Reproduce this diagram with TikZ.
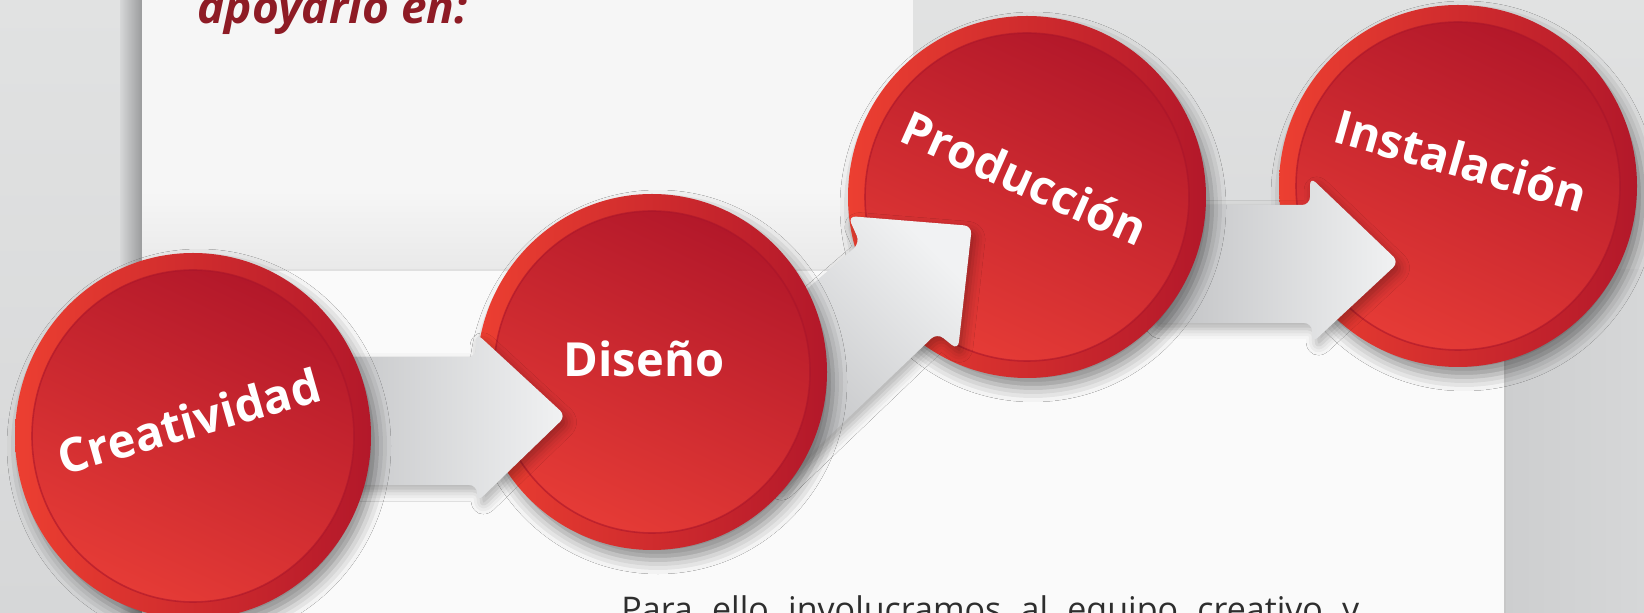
\documentclass[tikz,border=0pt]{standalone}
\usepackage{fontspec}
\setmainfont{Open Sans}
\usetikzlibrary{shadows.blur}
\definecolor{bggrey}{HTML}{D6D7D8}
\definecolor{bglight}{HTML}{E1E2E2}
\definecolor{bgright}{HTML}{CDCECF}
\definecolor{edgedark}{HTML}{9A9B9C}
\definecolor{panelA}{HTML}{F6F6F6}
\definecolor{panelB}{HTML}{E9E9E9}
\definecolor{panelC}{HTML}{FAFAFA}
\definecolor{ringL}{HTML}{EC3F31}
\definecolor{ringM}{HTML}{D82530}
\definecolor{ringR}{HTML}{B3182A}
\definecolor{discT}{HTML}{B3182A}
\definecolor{discB}{HTML}{E53B36}
\definecolor{discedge}{HTML}{A9152A}
\definecolor{arrowL}{HTML}{BFC0C2}
\definecolor{arrowR}{HTML}{F1F2F3}
\definecolor{titlered}{HTML}{8E1B25}
\definecolor{bodygrey}{HTML}{2E2E2E}
\tikzset{
  ringshade/.style={left color=ringL, middle color=ringM, right color=ringR,
    blur shadow={shadow xshift=3pt, shadow yshift=-5pt, shadow blur radius=7pt, shadow opacity=45}},
  discshade/.style={top color=discT, bottom color=discB, shading angle=-25},
  discline/.style={draw=discedge, line width=0.8pt, draw opacity=0.6},
  arrowshade/.style={left color=arrowL, right color=arrowR, rounded corners=4pt,
    blur shadow={shadow xshift=2pt, shadow yshift=-3pt, shadow blur radius=5pt, shadow opacity=30}},
  lab/.style={text=white, font=\bfseries\fontsize{23.5}{28}\selectfont, inner sep=0pt},
}
\newcommand\reddisc[4]{%
  \coordinate (#1) at (#2);
  \shade[ringshade] (#1) ellipse [x radius=#3, y radius=#4];
  \shade[discshade] (#1) ellipse [x radius=#3-17, y radius=#4-17];
  \path[discline] (#1) ellipse [x radius=#3-17, y radius=#4-17];
}
\begin{document}
\begin{tikzpicture}[x=0.5pt,y=-0.5pt]
\useasboundingbox (0,0) rectangle (1644,613);
\clip (0,0) rectangle (1644,613);
% background
\fill[bggrey] (0,0) rectangle (1644,613);
\shade[top color=bglight, bottom color=bggrey] (0,0) rectangle (142,613);
\shade[top color=bglight, bottom color=bggrey!90!white] (913,0) rectangle (1644,270);
\shade[left color=bgright, right color=bggrey] (1505,270) rectangle (1644,613);
\shade[left color=bggrey, right color=edgedark] (120,0) rectangle (142,613);
% top panel
\fill[panelA] (142,0) rectangle (913,270);
\shade[top color=panelA, bottom color=panelB] (142,190) rectangle (913,270);
% lower panel
\fill[panelC] (142,270) rectangle (1505,613);
\draw[black!12, line width=0.6pt] (142,270) -- (913,270);
\draw[black!22, line width=0.8pt] (1505,270) -- (1505,613);
% discs and arrows (back to front)
\reddisc{c4}{1458,186}{179}{181}
\shade[arrowshade] (1150,205) -- (1310,205) -- (1310,177) -- (1399,262) -- (1312,343) -- (1312,323) -- (1150,323) -- cycle;
\reddisc{c3}{1027,197}{179}{181}
\shade[arrowshade, shading angle=135] (760,330) -- (860,243) -- (848,216) -- (972,226) -- (958,350) -- (937,333) -- (775,488) -- cycle;
\reddisc{c2}{652,372}{175}{178}
\shade[arrowshade] (300,357) -- (476,357) -- (476,333) -- (566,416) -- (477,502) -- (477,485) -- (300,485) -- cycle;
\reddisc{c1}{193,436}{178}{183}
% labels
\node[lab, rotate=16] (t1) at (189,421) {Creatividad};
\node[lab, anchor=base] (t2) at (644,377) {Diseño};
\node[lab, rotate=-24] (t3) at (1025,178) {Producción};
\node[lab, rotate=-16] (t4) at (1461,160) {Instalación};
% texts
\node[anchor=base west, inner sep=0pt, text=titlered, font=\bfseries\itshape\fontsize{23}{27}\selectfont] (title) at (197,24) {apoyarlo en:};
\node[anchor=base west, inner sep=0pt, text=bodygrey, font=\fontsize{17}{20}\selectfont] (body) at (621,622) {\hbox to 369pt{Para\hfill ello\hfill involucramos\hfill al\hfill equipo\hfill creativo\hfill y}};
\end{tikzpicture}
\end{document}
